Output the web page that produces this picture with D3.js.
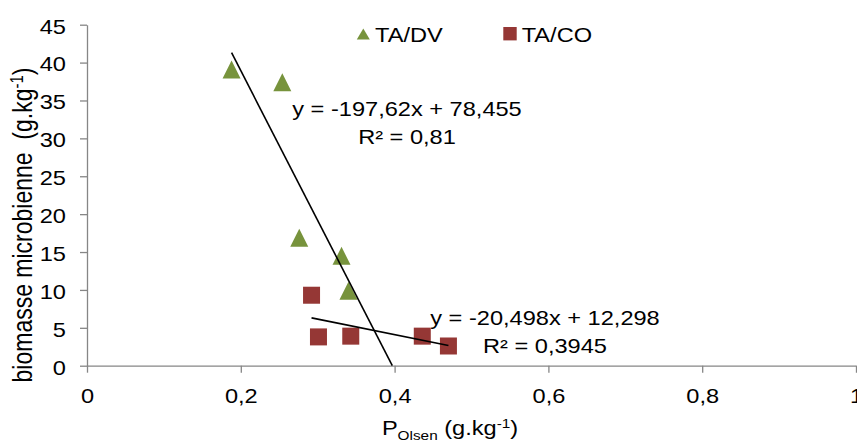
<!DOCTYPE html>
<html>
<head>
<meta charset="utf-8">
<script src="https://cdn.jsdelivr.net/npm/d3@7"></script>
<style>
  body { margin: 0; background: #fff; }
  svg { display: block; }
  text { font-family: "Liberation Sans", Arial, sans-serif; fill: #000; }
</style>
</head>
<body>
<div id="chart"></div>
<script>
// ---- data ----
const xTicks = [0, 0.2, 0.4, 0.6, 0.8, 1];
const yTicks = [0, 5, 10, 15, 20, 25, 30, 35, 40, 45];

const dvX = [0.188, 0.254, 0.276, 0.331, 0.340];
const dvY = [39.1, 37.4, 16.9, 14.5, 9.9];
const coX = [0.292, 0.301, 0.343, 0.436, 0.470];
const coY = [9.3, 3.8, 3.9, 3.9, 2.6];

const dvFit = [-197.62, 78.455];   // slope, intercept
const coFit = [-20.498, 12.298];
const dvLabel = ["y = -197,62x + 78,455", "R² = 0,81"];
const coLabel = ["y = -20,498x + 12,298", "R² = 0,3945"];

const seriesNames = ["TA/DV", "TA/CO"];
const seriesColors = ["#77933C", "#953735"];

// ---- layout ----
const width = 857, height = 444;
const SX = 1.18;          // the original is stretched horizontally
const axisColor = "#868686";
const fmt = d => String(d).replace(".", ",");

let svg = d3.select("#chart").append("svg")
    .attr("width", width)
    .attr("height", height);

let x = d3.scaleLinear().domain([0, 1]).range([87, 856]);
let y = d3.scaleLinear().domain([0, 45]).range([365.7, 24.7]);

// stretched text helper
function addText(parent, px, py, anchor, size, rotate) {
    let g = parent.append("g")
        .attr("transform", rotate
            ? "translate(" + px + "," + py + ") rotate(-90) scale(1," + SX + ")"
            : "translate(" + px + "," + py + ") scale(" + SX + ",1)");
    return g.append("text")
        .attr("text-anchor", anchor)
        .attr("font-size", size);
}

//=================================================
// Axes
//=================================================
let axisX = svg.append("g")
    .attr("transform", "translate(0," + y(0) + ")")
    .call(d3.axisBottom(x).tickValues(xTicks).tickFormat(fmt)
        .tickSize(7).tickSizeOuter(0).tickPadding(16));

let axisY = svg.append("g")
    .attr("transform", "translate(" + x(0) + ",0)")
    .call(d3.axisLeft(y).tickValues(yTicks).tickFormat(fmt)
        .tickSize(7).tickSizeOuter(0).tickPadding(14));

[axisX, axisY].forEach(a => {
    a.selectAll(".domain, .tick line")
        .attr("stroke", axisColor)
        .attr("stroke-width", 1.3);
    a.selectAll("text")
        .attr("fill", "#000")
        .attr("font-size", 20)
        .attr("font-family", "Liberation Sans, Arial, sans-serif");
});

axisX.selectAll(".tick text")
    .attr("transform", "scale(" + SX + ",1)");
axisY.selectAll(".tick text")
    .attr("dy", "0.42em")
    .attr("transform", "translate(-21,0) scale(" + SX + ",1)")
    .attr("x", 0);

// axis titles
let xTitle = addText(svg, 450, 435, "middle", 20, false);
xTitle.append("tspan").text("P");
xTitle.append("tspan").attr("font-size", 13).attr("dy", 5).text("Olsen");
xTitle.append("tspan").attr("dy", -5).text(" (g.kg");
xTitle.append("tspan").attr("font-size", 13).attr("dy", -7).text("-1");
xTitle.append("tspan").attr("dy", 7).text(")");

let yTitle = addText(svg, 32, 225, "middle", 23, true);
yTitle.append("tspan").text("biomasse microbienne\u00a0 (g.kg");
yTitle.append("tspan").attr("font-size", 15).attr("dy", -8).text("-1");
yTitle.append("tspan").attr("dy", 8).text(")");

//=================================================
// Markers
//=================================================
let plot = svg.append("g").attr("class", "plot");
let tri = d3.symbol().type(d3.symbolTriangle);

function triPath(cx, cy, w, h) {
    return "M" + cx + "," + (cy - h / 2) +
        "L" + (cx + w / 2) + "," + (cy + h / 2) +
        "L" + (cx - w / 2) + "," + (cy + h / 2) + "Z";
}

plot.selectAll("path.dv")
    .data(dvX.map((d, i) => ({ x: d, y: dvY[i] })))
    .join("path")
    .attr("class", "dv")
    .attr("d", d => triPath(x(d.x), y(d.y), 18, 18))
    .attr("fill", seriesColors[0]);

plot.selectAll("rect.co")
    .data(coX.map((d, i) => ({ x: d, y: coY[i] })))
    .join("rect")
    .attr("class", "co")
    .attr("x", d => x(d.x) - 8.5)
    .attr("y", d => y(d.y) - 8.5)
    .attr("width", 17)
    .attr("height", 17)
    .attr("fill", seriesColors[1]);

//=================================================
// Trendlines (drawn over the markers)
//=================================================
let dvStart = d3.min(dvX);
let dvEnd = -dvFit[1] / dvFit[0];   // forecast down to y = 0
let coStart = d3.min(coX), coEnd = d3.max(coX);

let trend = [
    [[dvStart, dvFit[0] * dvStart + dvFit[1]], [dvEnd, 0]],
    [[coStart, coFit[0] * coStart + coFit[1]], [coEnd, coFit[0] * coEnd + coFit[1]]]
];
let line = d3.line().x(d => x(d[0])).y(d => y(d[1]));
plot.selectAll("path.trend")
    .data(trend)
    .join("path")
    .attr("class", "trend")
    .attr("d", line)
    .attr("fill", "none")
    .attr("stroke", "#000")
    .attr("stroke-width", 1.6);

// equations
[[dvLabel, 407, 116], [coLabel, 545, 325]].forEach(([lbl, px, py]) => {
    lbl.forEach((s, i) => {
        addText(svg, px, py + i * 28, "middle", 20, false).text(s);
    });
});

//=================================================
// Legend
//=================================================
let legend = svg.append("g").attr("class", "legend");
legend.append("path")
    .attr("d", triPath(363.3, 34, 13, 11))
    .attr("fill", seriesColors[0]);
addText(legend, 375, 41.7, "start", 20, false).text(seriesNames[0]);
legend.append("rect")
    .attr("x", 503.3).attr("y", 27)
    .attr("width", 13.4).attr("height", 13.4)
    .attr("fill", seriesColors[1]);
addText(legend, 521.7, 41.7, "start", 20, false).text(seriesNames[1]);
</script>
</body>
</html>
